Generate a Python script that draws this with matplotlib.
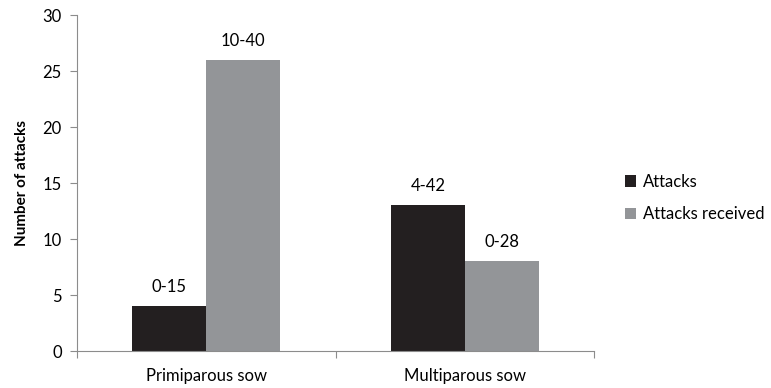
import matplotlib
matplotlib.use("Agg")
import matplotlib.pyplot as plt
import numpy as np

categories = ["Primiparous sow", "Multiparous sow"]
series_names = ["Attacks", "Attacks received"]
attacks = [4, 13]
attacks_received = [26, 8]
attacks_labels = ["0-15", "4-42"]
received_labels = ["10-40", "0-28"]
colors = ["#231f20", "#939598"]

plt.rcParams['font.family'] = ['Lato', 'DejaVu Sans']

fig = plt.figure(figsize=(7.71, 3.88), dpi=100)
ax = fig.add_axes([77/771, 1-351/388, (594-77)/771, (351-15)/388])

x = np.arange(len(categories))
w = 0.286
b1 = ax.bar(x - w/2, attacks, w, color=colors[0], label=series_names[0])
b2 = ax.bar(x + w/2, attacks_received, w, color=colors[1], label=series_names[1])
for bars, labs in ((b1, attacks_labels), (b2, received_labels)):
    for r, l in zip(bars, labs):
        ax.annotate(l, (r.get_x() + r.get_width()/2, r.get_height()), xytext=(0, 8),
                    textcoords="offset points", ha="center", va="bottom", fontsize=12)

ax.set_xlim(-0.5, 1.5)
ax.set_ylim(0, 30)
ax.set_yticks(range(0, 31, 5))
ax.set_xticks([-0.5, 0.5, 1.5], minor=False)
ax.set_xticklabels([])
ax.set_xticks(x, minor=True)
ax.set_xticklabels(categories, minor=True, fontsize=12)
ax.tick_params(axis='x', which='minor', length=0, pad=12)
ax.tick_params(axis='x', which='major', length=5, color='#8c8c8c')
ax.tick_params(axis='y', length=5, color='#8c8c8c', labelsize=12, pad=6)
for s in ['top', 'right']:
    ax.spines[s].set_visible(False)
for s in ['left', 'bottom']:
    ax.spines[s].set_color('#8c8c8c')
ax.set_ylabel("Number of attacks", fontsize=11, fontweight='bold', labelpad=10)

leg = ax.legend(loc='center left', bbox_to_anchor=(1.03, 0.455), frameon=False,
                fontsize=12, handlelength=0.7, handleheight=0.7, handletextpad=0.4,
                labelspacing=1.0)

fig.savefig("out.png", dpi=100)
